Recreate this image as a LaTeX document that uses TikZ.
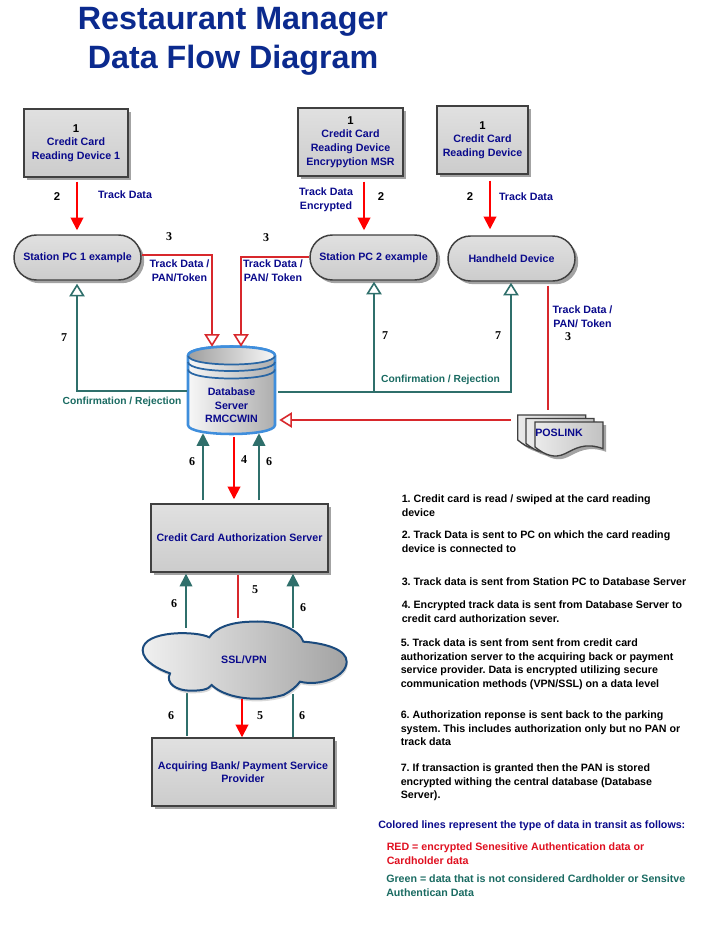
\documentclass[tikz,border=0pt]{standalone}
\usepackage{fontspec}
\setmainfont{Liberation Sans}
\newfontfamily\numserif{Liberation Serif}
\usetikzlibrary{arrows.meta,calc,shadows}
\frenchspacing
\definecolor{navytxt}{HTML}{0A0A8C}
\definecolor{titleblue}{HTML}{0B2A8E}
\definecolor{tealline}{HTML}{2F6F6B}
\definecolor{tealtxt}{HTML}{1A6B62}
\definecolor{redline}{HTML}{D8282C}
\definecolor{puretxtred}{HTML}{E01020}
\definecolor{edgegray}{HTML}{404040}
\definecolor{dbblue}{HTML}{3F8EDC}
\definecolor{cloudedge}{HTML}{1B4B7E}
\tikzset{
  x=0.75pt,y=-0.75pt,
  px/.style 2 args={minimum width=#1*0.75pt,minimum height=#2*0.75pt,inner sep=0pt},
  grad/.style={top color=black!12,middle color=black!6,bottom color=black!20},
  sh/.style={drop shadow={shadow xshift=2.4pt,shadow yshift=-2.4pt,fill=black!45,opacity=0.8}},
  boxnode/.style={draw=edgegray,line width=1.1pt,grad,sh,align=center,text=navytxt,font=\fontsize{8}{10.2}\selectfont\bfseries},
  pillnode/.style={boxnode,rounded corners=16.8pt},
  plainnode/.style={inner sep=0pt,align=center,text=navytxt,font=\fontsize{8}{10.2}\selectfont\bfseries},
  lbl/.style={plainnode},
  tlbl/.style={plainnode,text=tealtxt,font=\fontsize{7.7}{10}\selectfont\bfseries},
  num/.style={inner sep=0pt,font=\fontsize{9}{10}\selectfont\bfseries\numserif,text=black},
  numb/.style={inner sep=0pt,font=\fontsize{8.5}{10}\selectfont\bfseries,text=black},
  para/.style={inner sep=0pt,anchor=north west,align=left,text=black,font=\fontsize{8}{10.2}\selectfont\bfseries},
  redsolid/.style={draw=red,line width=1.4pt,-{Triangle[length=9.5pt,width=9.5pt,fill=red]}},
  redplain/.style={draw=redline,line width=1.3pt},
  redopen/.style={draw=redline,line width=1.3pt,-{Triangle[open,length=9.5pt,width=11.5pt,fill=white,line width=1.2pt]}},
  tealsolid/.style={draw=tealline,line width=1.3pt,-{Triangle[length=9.5pt,width=9.5pt,fill=tealline]}},
  tealplain/.style={draw=tealline,line width=1.3pt},
  tealopen/.style={draw=tealline,line width=1.3pt,-{Triangle[open,length=9.5pt,width=11.5pt,fill=white,line width=1.2pt]}},
}
\newcommand{\docpage}[2]{%
  \path[draw=edgegray,line width=1pt,left color=black!8,right color=black!24,sh,shift={(#1,#2)},x=0.25pt,y=-0.25pt]
    (0,0) -- (204,0) -- (204,80) .. controls (150,60) and (120,80) .. (90,95)
    .. controls (60,110) and (30,100) .. (0,75) -- cycle;}
\newcommand{\cloudpath}{(268,592) .. controls (230,572) and (70,570) .. (68,630)
    .. controls (68,665) and (120,690) .. (150,700)
    .. controls (135,730) and (170,752) .. (210,752)
    .. controls (240,752) and (265,750) .. (275,735)
    .. controls (310,770) and (400,790) .. (490,765)
    .. controls (510,755) and (530,740) .. (540,725)
    .. controls (600,740) and (680,710) .. (680,665)
    .. controls (680,630) and (620,610) .. (550,605)
    .. controls (540,570) and (470,540) .. (400,545)
    .. controls (330,545) and (285,565) .. (268,592) -- cycle}
\begin{document}
\begin{tikzpicture}
\useasboundingbox (0,0) rectangle (722,938);
\fill[white] (0,0) rectangle (722,938);

% Title
\node[inner sep=0pt,align=center,text=titleblue,font=\fontsize{24.2}{29.2}\selectfont\bfseries] (title) at (233,41) {Restaurant Manager\\Data Flow Diagram};

% Boxes
\node[boxnode,px={104}{68}] (dev1) at (76,143) {\fontsize{8.5}{10}\selectfont\textcolor{black}{1}\\Credit Card\\Reading Device 1};
\node[boxnode,px={105}{68}] (dev2) at (350.5,142) {\fontsize{8.5}{10}\selectfont\textcolor{black}{1}\\Credit Card\\Reading Device\\Encrypytion MSR};
\node[boxnode,px={91}{68}] (dev3) at (482.5,140) {\fontsize{8.5}{10}\selectfont\textcolor{black}{1}\\Credit Card\\Reading Device};
\node[pillnode,px={127}{45}] (pc1) at (77.5,257.5) {Station PC 1 example};
\node[pillnode,px={127}{45}] (pc2) at (373.5,257.5) {Station PC 2 example};
\node[pillnode,px={127}{45}] (hand) at (511.5,258.5) {Handheld Device};
\node[boxnode,px={177}{68}] (auth) at (239.5,538) {Credit Card Authorization Server};
\node[boxnode,px={182}{68}] (bank) at (243,772) {Acquiring Bank/ Payment Service\\Provider};

% Database cylinder
\path[draw=dbblue,line width=1.9pt,left color=black!3,right color=black!32]
  (188,355.5) -- (188,425) .. controls (188,437) and (275,437) .. (275,425) -- (275,355.5)
  .. controls (275,343.5) and (188,343.5) .. (188,355.5) -- cycle;
\path[draw=none,left color=black!38,right color=black!3]
  (188,355.5) .. controls (188,367.5) and (275,367.5) .. (275,355.5)
  .. controls (275,343.5) and (188,343.5) .. (188,355.5) -- cycle;
\draw[cloudedge!60!dbblue,line width=1.3pt] (188,355.5) .. controls (188,367.5) and (275,367.5) .. (275,355.5);
\draw[cloudedge!60!dbblue,line width=1.3pt] (188,362) .. controls (188,374) and (275,374) .. (275,362);
\draw[cloudedge!60!dbblue,line width=1.3pt] (188,369.5) .. controls (188,381.5) and (275,381.5) .. (275,369.5);
\draw[dbblue,line width=1.9pt] (188,355.5) .. controls (188,343.5) and (275,343.5) .. (275,355.5);
\node[plainnode,px={87}{87}] (db) at (231.5,390.5) {\\[18pt]Database\\Server\\RMCCWIN};

% POSLINK stack
\docpage{517.7}{415}
\docpage{526}{418.5}
\docpage{535}{422}
\node[plainnode,px={86}{41}] (pos) at (559,433) {POSLINK};

% Connectors behind cloud
\node[plainnode,px={205}{78}] (cloud) at (244.5,660) {};
\draw[tealsolid] ($(cloud.north)+(48.5,7)$) -- ($(auth.south)+(53.5,1)$);
\draw[tealsolid] ($(cloud.north)+(-58.5,7)$) -- ($(auth.south)+(-53.5,1)$);
\draw[redplain] ($(auth.south)+(-1.5,2)$) -- ($(cloud.north)+(-6.5,-3)$);
\draw[tealplain] ($(cloud.south)+(-57.5,-7)$) -- ($(bank.north)+(-56,-1)$);
\draw[tealplain] ($(cloud.south)+(48.5,-5)$) -- ($(bank.north)+(50,0)$);

% Cloud
\begin{scope}[shift={(120,440)},x=0.25pt,y=-0.25pt]
  \path[fill=black!15,shift={(3,8)}] \cloudpath;
  \path[draw=cloudedge,line width=1.5pt,left color=black!6,right color=black!36] \cloudpath;
\end{scope}
\node[plainnode] (ssl) at (244,660) {SSL/VPN};

% Connectors
\draw[redsolid] ($(dev1.south)+(1,4)$) -- ($(pc1.north)+(-0.5,-4)$);
\draw[redsolid] ($(dev2.south)+(13.5,5)$) -- ($(pc2.north)+(-9.5,-4)$);
\draw[redsolid] ($(dev3.south)+(7.5,6)$) -- ($(hand.north)+(-21.5,-6)$);
\draw[redopen] ($(pc1.east)+(0,-2.5)$) -| ($(db.north)+(-19.5,0)$);
\draw[redopen] ($(pc2.west)+(0,-0.5)$) -| ($(db.north)+(9.5,0)$);
\draw[tealopen] ($(db.west)+(-1,.5)$) -| ($(pc1.south)+(-0.5,3)$);
\draw[tealopen] ($(db.east)+(3,1.5)$) -| ($(hand.south)+(-0.5,1)$);
\coordinate (junc) at (374,392);
\draw[tealopen] (junc) -- ($(pc2.south)+(0.5,1)$);
\draw[redplain] ($(hand.south)+(36.5,4)$) -- ($(pos.north)+(-11,-2.5)$);
\draw[redopen] ($(pos.west)+(-5,-13)$) -- ($(db.east)+(4,29.5)$);
\draw[tealsolid] ($(auth.north)+(-36.5,-3)$) -- ($(db.south)+(-28.5,-1)$);
\draw[tealsolid] ($(auth.north)+(19.5,-3)$) -- ($(db.south)+(27.5,-1)$);
\draw[redsolid] ($(db.south)+(2.5,3)$) -- ($(auth.north)+(-5.5,-4)$);
\draw[redsolid] ($(cloud.south)+(-2.5,0)$) -- ($(bank.north)+(-1,0)$);

% Labels
\node[numb] (n2a) at (57,197) {2};
\node[lbl] (l1) at (125,195) {Track Data};
\node[num] (n3a) at (169,237) {3};
\node[lbl] (l2) at (179.5,271) {Track Data /\\PAN/Token};
\node[num] (n3b) at (266,238) {3};
\node[lbl] (l3) at (273,270.5) {Track Data /\\PAN/ Token};
\node[num] (n7a) at (64,338) {7};
\node[tlbl] (l4) at (122,402) {Confirmation / Rejection};
\node[lbl] (l5) at (326,200) {Track Data\\Encrypted};
\node[numb] (n2b) at (381,197) {2};
\node[numb] (n2c) at (470,197) {2};
\node[lbl] (l6) at (526,197) {Track Data};
\node[num] (n7b) at (385,336) {7};
\node[num] (n7c) at (498,336) {7};
\node[tlbl] (l7) at (440.5,380) {Confirmation / Rejection};
\node[lbl] (l8) at (582.5,316.5) {Track Data /\\PAN/ Token};
\node[num] (n3c) at (568,337) {3};
\node[num] (n4) at (244,459.5) {4};
\node[num] (n6a) at (192,461.5) {6};
\node[num] (n6b) at (269,461.5) {6};
\node[num] (n5a) at (255,590) {5};
\node[num] (n6c) at (174,604) {6};
\node[num] (n6d) at (303,608) {6};
\node[num] (n6e) at (171,716) {6};
\node[num] (n5b) at (260,716) {5};
\node[num] (n6f) at (302,716) {6};

% Explanations
\node[para] (p1) at (401.5,493) {\strut 1. Credit card is read / swiped at the card reading\\device};
\node[para] (p2) at (401.5,529) {\strut 2. Track Data is sent to PC on which the card reading\\device is connected to};
\node[para] (p3) at (401.5,576) {\strut 3. Track data is sent from Station PC to Database Server};
\node[para] (p4) at (401.5,599) {\strut 4. Encrypted track data is sent from Database Server to\\credit card authorization sever.};
\node[para] (p5) at (400.5,637) {\strut 5. Track data is sent from sent from credit card\\authorization server to the acquiring back or payment\\service provider. Data is encrypted utilizing secure\\communication methods (VPN/SSL) on a data level};
\node[para] (p6) at (400.5,709) {\strut 6. Authorization reponse is sent back to the parking\\system. This includes authorization only but no PAN or\\track data};
\node[para] (p7) at (400.5,762) {\strut 7. If transaction is granted then the PAN is stored\\encrypted withing the central database (Database\\Server).};
\node[para,text=navytxt] (p8) at (378,819) {\strut Colored lines represent the type of data in transit as follows:};
\node[para,text=puretxtred] (p9) at (386.5,841) {\strut RED = encrypted Senesitive Authentication data or\\Cardholder data};
\node[para,text=tealtxt] (p10) at (386,873) {\strut Green = data that is not considered Cardholder or Sensitve\\Authentican Data};
\end{tikzpicture}
\end{document}
